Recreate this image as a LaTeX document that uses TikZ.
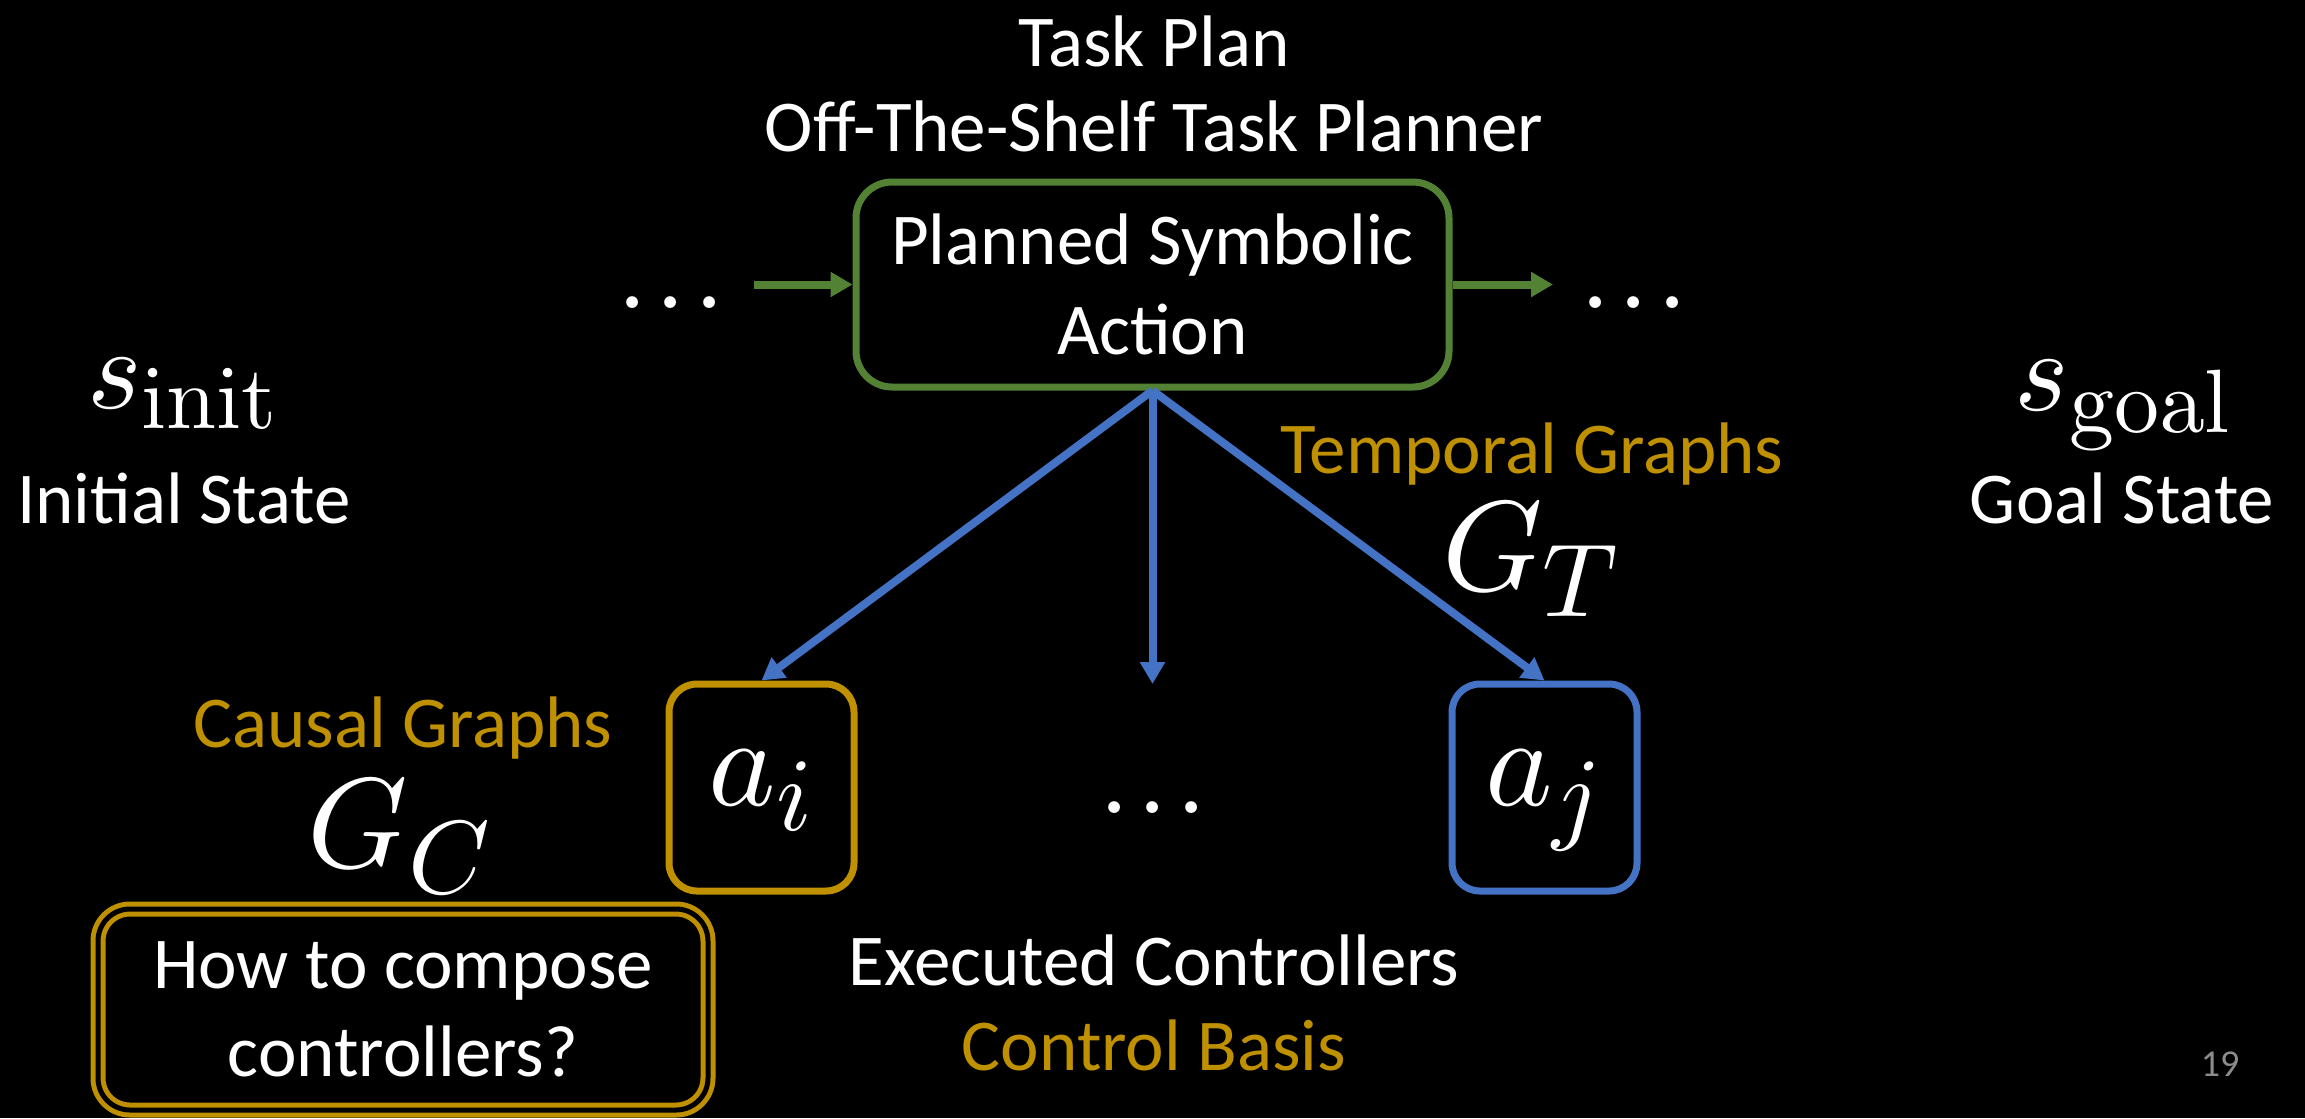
\documentclass[tikz,border=0pt]{standalone}
\usepackage[no-math]{fontspec}
\setmainfont{Carlito}
\usetikzlibrary{arrows.meta}

% let the Computer Modern math fonts scale to any size
\DeclareFontShape{OML}{cmm}{m}{it}{<->cmmi10}{}
\DeclareFontShape{OML}{cmm}{b}{it}{<->cmmib10}{}
\DeclareFontShape{OT1}{cmr}{m}{n}{<->cmr10}{}
\DeclareFontShape{OT1}{cmr}{bx}{n}{<->cmbx10}{}
\DeclareFontShape{OMS}{cmsy}{m}{n}{<->cmsy10}{}
\DeclareFontShape{OMS}{cmsy}{b}{n}{<->cmbsy10}{}

% large formulas keep fairly large subscripts
\DeclareMathSizes{32}{32}{26}{20}
\DeclareMathSizes{29}{29}{22.5}{18}

\definecolor{planGreen}{HTML}{548235}
\definecolor{accGold}{HTML}{BF9000}
\definecolor{accBlue}{HTML}{4472C4}
\definecolor{pageNum}{HTML}{8C8C8C}

\begin{document}
\begin{tikzpicture}[x=0.25pt,y=-0.25pt,
  txt/.style={anchor=base, inner sep=0pt, text=white,
    font=\fontsize{18.25}{22}\selectfont},
  mathlbl/.style={anchor=base, inner sep=0pt, text=white,
    font=\fontsize{32}{38}\selectfont},
  statelbl/.style={anchor=base, inner sep=0pt, text=white,
    font=\fontsize{29}{34}\selectfont},
  dotsty/.style={inner sep=0pt, text=white,
    font=\fontsize{19}{23}\selectfont\boldmath},
  actbox/.style={draw=planGreen, line width=1.75pt, rounded corners=9pt,
    align=center, text=white, inner sep=0pt,
    minimum width=148.25pt, minimum height=51.25pt,
    font=\fontsize{18.25}{22.5}\selectfont},
  abox/.style={line width=1.75pt, rounded corners=7pt, text=white,
    inner sep=0pt, minimum width=46.25pt, minimum height=51.75pt,
    text height=14pt, text depth=5pt,
    font=\fontsize{32}{38}\selectfont},
  dblbox/.style={draw=accGold, double=black, line width=1.25pt,
    double distance=1.25pt, rounded corners=8pt, align=center,
    text=white, inner sep=0pt, minimum width=152.5pt, minimum height=50.25pt,
    font=\fontsize{18.25}{22}\selectfont},
  garrow/.style={draw=planGreen, line width=2pt,
    -{Triangle[length=5.5pt,width=6pt]}},
  barrow/.style={draw=accBlue, line width=2pt,
    -{Triangle[length=5.5pt,width=6pt]}}
]
\fill[black] (0,0) rectangle (2305,1118);
\useasboundingbox (0,0) rectangle (2305,1118);

% planner header
\node[txt] (taskplan) at (1154,66) {Task Plan};
\node[txt] (planner) at (1154,151) {Off-The-Shelf Task Planner};

% symbolic action and its neighbours in the plan
\node[actbox] (act) at (1152.5,284.5) {Planned Symbolic\\Action};
\node[dotsty] (ldots) at (671,303) {$\ldots$};
\node[dotsty] (rdots) at (1634,303) {$\ldots$};
\coordinate (lin) at (754,284.5);
\coordinate (rout) at (1553,284.5);
\draw[garrow] (lin) -- (act.west);
\draw[garrow] (act.east) -- (rout);

% start and goal states
\node[statelbl] (sinit) at (183,408) {$s_{\mathrm{init}}$};
\node[txt] (initlbl) at (184,523) {Initial State};
\node[statelbl] (sgoal) at (2123,410) {$s_{\mathrm{goal}}$};
\node[txt] (goallbl) at (2122,523) {Goal State};

% executed controllers
\node[abox, draw=accGold] (ai) at (761.5,787.5) {$a_i$};
\node[abox, draw=accBlue] (aj) at (1544.5,787.5) {$a_j$};
\node[dotsty] (mdots) at (1153,808) {$\ldots$};
\coordinate (mid) at (1152.5,684);
\draw[barrow] (act.south) -- (ai.north);
\draw[barrow] (act.south) -- (mid);
\draw[barrow] (act.south) -- (aj.north);

% graph labels
\node[txt, text=accGold] (temporal) at (1532,473) {Temporal Graphs};
\node[mathlbl] (gt) at (1531,590) {$G_T$};
\node[txt, text=accGold] (causal) at (403,747) {Causal Graphs};
\node[mathlbl] (gc) at (400,867) {$G_C$};

% composition question
\node[dblbox] (question) at (403,1009.5) {How to compose\\controllers?};

% controller layer captions
\node[txt] (executed) at (1154,985) {Executed Controllers};
\node[txt, text=accGold] (basis) at (1154,1070) {Control Basis};

% slide number
\node[anchor=base, inner sep=0pt, text=pageNum,
  font=\fontsize{9.5}{11}\selectfont] (pagenum) at (2220,1076) {19};
\end{tikzpicture}
\end{document}
